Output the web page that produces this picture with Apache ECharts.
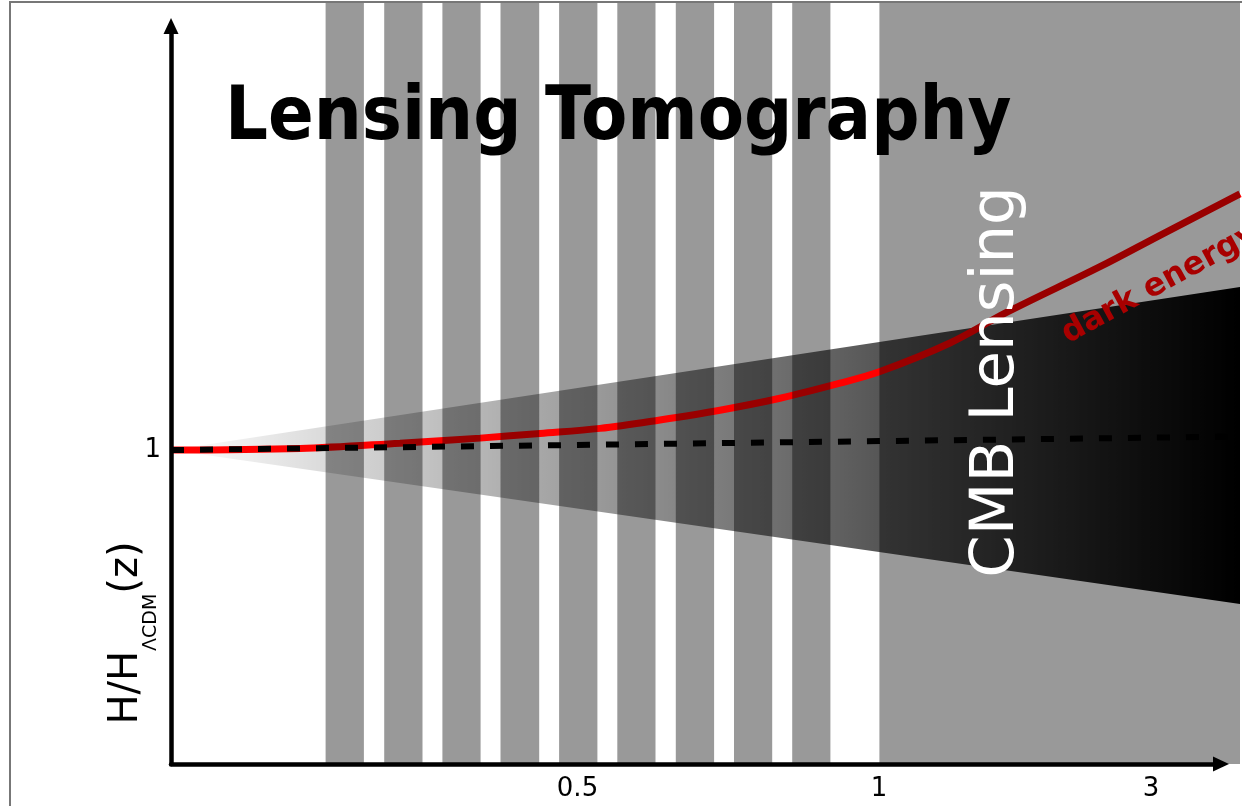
<!DOCTYPE html>
<html><head><meta charset="utf-8">
<script src="https://cdn.jsdelivr.net/npm/echarts@6/dist/echarts.min.js"></script>
<style>html,body{margin:0;padding:0;background:#fff}#c{width:1242px;height:806px}</style>
</head><body><div id="c"></div>
<script>
// ---- data (axis units) ----
const xTickValues = [4.065, 7.08, 9.80];
const xTickLabels = ['0.5', '1', '3'];
const yTickValues = [1];
const yTickLabels = ['1'];
const tomographyBins = [
  [1.546, 1.929], [2.132, 2.515], [2.714, 3.096], [3.295, 3.682], [3.881, 4.264],
  [4.463, 4.845], [5.048, 5.431], [5.630, 6.012], [6.212, 6.594]
];
const cmbRegion = [[7.084, 10.69]];
const fanApex = [0, 1.0];
const fanUpperEnd = [10.69, 1.519];
const fanLowerEnd = [10.69, 0.510];
const lcdmLine = [[0, 1.0], [10.69, 1.043]];
const darkEnergyCurve = [
  [0, 1.000], [1.29, 1.005], [2.29, 1.022], [3.09, 1.038], [3.69, 1.053],
  [4.29, 1.069], [4.89, 1.096], [5.49, 1.127], [6.09, 1.165], [6.69, 1.213],
  [7.09, 1.250], [7.79, 1.341], [8.36, 1.439], [9.29, 1.584], [9.89, 1.684],
  [10.69, 1.816]
];
// plotted extent (background panel) and axis extent
const panelXMax = 10.69, panelYMax = 2.424;
const axisXMax = 10.5, axisYMax = 2.35;

const chart = echarts.init(document.getElementById('c'), null, {renderer: 'canvas'});
const allBins = tomographyBins.concat(cmbRegion);

const hiddenAxis = {
  type: 'value', min: 0, show: false, splitLine: {show: false}
};
const arrowLine = {show: true, onZero: false, symbol: ['none', 'triangle'], symbolSize: [15, 16], lineStyle: {color: '#000', width: 4.5}};

const option = {
  animation: false,
  backgroundColor: '#fff',
  title: {
    text: 'Lensing Tomography',
    left: 225, top: 82, padding: 0, z: 20,
    textStyle: {fontFamily: "'DejaVu Sans Condensed', 'DejaVu Sans', sans-serif", fontWeight: 'bold', fontSize: 75, color: '#000'}
  },
  grid: [
    {left: 171, right: 2, top: 3, bottom: 42, containLabel: false},
    {left: 171, right: 21, top: 26, bottom: 42, containLabel: false, z: 10}
  ],
  xAxis: [
    Object.assign({}, hiddenAxis, {gridIndex: 0, max: panelXMax}),
    {
      gridIndex: 1, type: 'value', min: 0, max: axisXMax, z: 10,
      splitLine: {show: false},
      axisTick: {show: false},
      axisLine: arrowLine,
      axisLabel: {
        customValues: xTickValues,
        formatter: v => xTickLabels[xTickValues.indexOf(v)],
        fontFamily: 'DejaVu Sans', fontSize: 26, color: '#000', margin: 12
      }
    }
  ],
  yAxis: [
    Object.assign({}, hiddenAxis, {gridIndex: 0, max: panelYMax}),
    {
      gridIndex: 1, type: 'value', min: 0, max: axisYMax, z: 10,
      splitLine: {show: false},
      axisTick: {show: false},
      axisLine: arrowLine,
      axisLabel: {
        customValues: yTickValues,
        formatter: v => yTickLabels[yTickValues.indexOf(v)],
        fontFamily: 'DejaVu Sans', fontSize: 26, color: '#000', margin: 10
      }
    }
  ],
  series: [
    {
      type: 'custom', name: 'forecast', z: 1, xAxisIndex: 0, yAxisIndex: 0,
      data: [[fanApex[0], fanApex[1], fanUpperEnd[0], fanUpperEnd[1], fanLowerEnd[0], fanLowerEnd[1]]],
      renderItem: (params, api) => {
        const a = api.coord([api.value(0), api.value(1)]);
        const b = api.coord([api.value(2), api.value(3)]);
        const c = api.coord([api.value(4), api.value(5)]);
        return {
          type: 'polygon',
          shape: {points: [a, b, c]},
          style: {fill: new echarts.graphic.LinearGradient(0, 0, 1, 0, [
            {offset: 0, color: 'rgba(0,0,0,0)'}, {offset: 1, color: 'rgba(0,0,0,1)'}
          ])}
        };
      }
    },
    {
      type: 'line', name: 'dark energy', z: 2, xAxisIndex: 0, yAxisIndex: 0,
      data: darkEnergyCurve, smooth: 0.35, showSymbol: false, symbol: 'none',
      lineStyle: {color: '#ff0000', width: 7}
    },
    {
      type: 'line', name: 'LCDM', z: 3, xAxisIndex: 0, yAxisIndex: 0,
      data: lcdmLine, showSymbol: false, symbol: 'none',
      lineStyle: {color: '#000', width: 6, type: [13, 16], cap: 'butt'}
    },
    {
      type: 'custom', name: 'bins', z: 4, xAxisIndex: 0, yAxisIndex: 0,
      data: allBins,
      renderItem: (params, api) => {
        const p0 = api.coord([api.value(0), panelYMax]);
        const p1 = api.coord([api.value(1), 0]);
        return {
          type: 'rect',
          shape: {x: p0[0], y: p0[1], width: p1[0] - p0[0], height: p1[1] - p0[1]},
          style: {fill: 'rgba(0,0,0,0.4)'}
        };
      }
    }
  ],
  graphic: [
    {type: 'rect', z: 30, silent: true, shape: {x: 10, y: 2, width: 1400, height: 1000},
     style: {fill: 'none', stroke: '#777', lineWidth: 2}},
    {type: 'text', z: 30, x: 134, y: 633, rotation: Math.PI / 2,
     style: {
       text: '{b|H/H}{s|ΛCDM}{b|(z)}', align: 'center', verticalAlign: 'middle',
       rich: {
         b: {fontFamily: 'DejaVu Sans', fontSize: 40, fill: '#000', verticalAlign: 'bottom', padding: [0, 0, 14, 0]},
         s: {fontFamily: 'DejaVu Sans', fontSize: 19, fill: '#000', verticalAlign: 'bottom'}
       }
     }},
    {type: 'text', z: 30, x: 997, y: 382, rotation: Math.PI / 2,
     style: {text: 'CMB Lensing', fontFamily: 'DejaVu Sans', fontSize: 61, fill: '#fff', align: 'center', verticalAlign: 'middle'}},
    {type: 'text', z: 30, x: 1160, y: 284, rotation: 0.497,
     style: {text: 'dark energy', fontFamily: 'DejaVu Sans', fontWeight: 'bold', fontSize: 32, fill: '#a80000', align: 'center', verticalAlign: 'middle'}}
  ]
};
chart.setOption(option);
</script>
</body></html>
